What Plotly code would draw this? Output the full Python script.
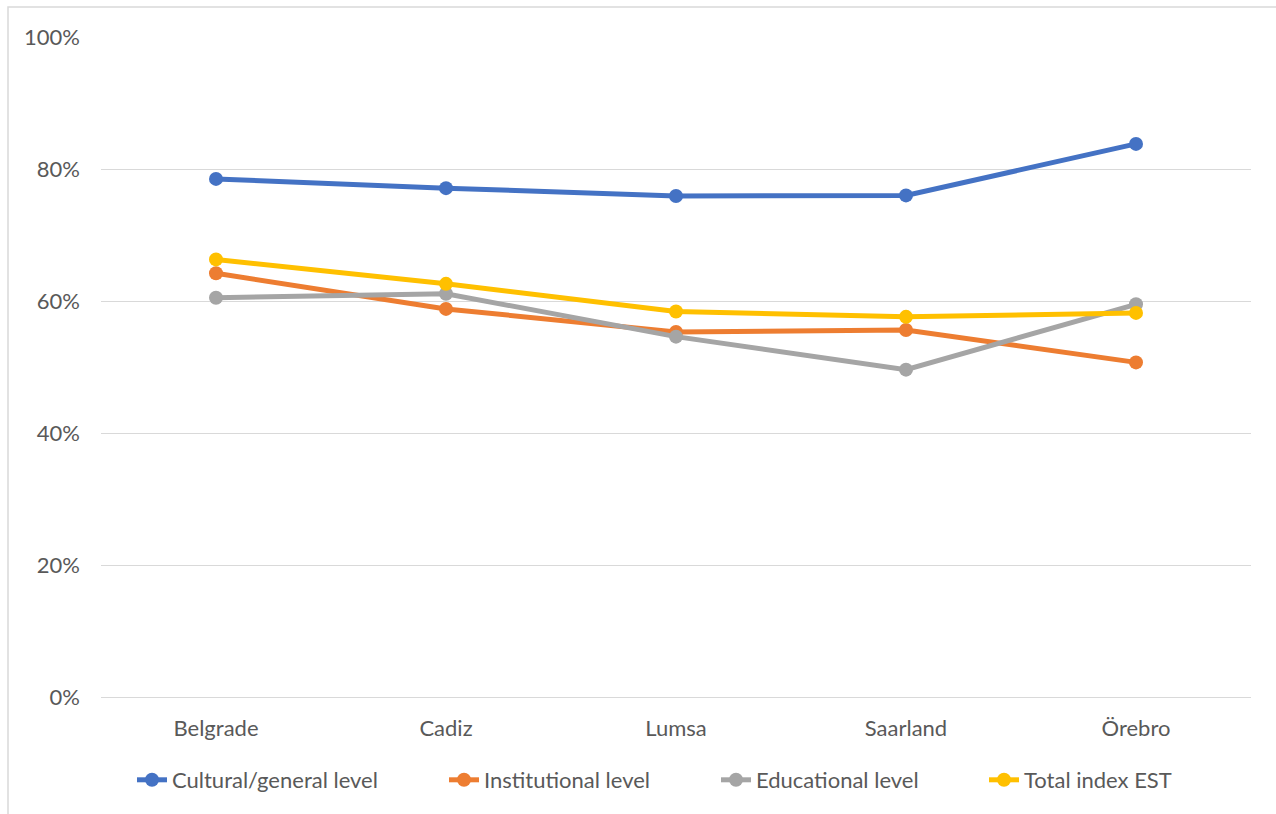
import plotly.graph_objects as go

categories = ["Belgrade", "Cadiz", "Lumsa", "Saarland", "Örebro"]
cultural = [0.785, 0.771, 0.759, 0.760, 0.838]
institutional = [0.642, 0.588, 0.553, 0.556, 0.507]
educational = [0.605, 0.611, 0.546, 0.496, 0.595]
total = [0.663, 0.626, 0.584, 0.576, 0.582]

series_names = ["Cultural/general level", "Institutional level", "Educational level", "Total index EST"]
series_values = [cultural, institutional, educational, total]
colors = ["#4472C4", "#ED7D31", "#A5A5A5", "#FFC000"]
legend_widths = [267, 227, 223, 150]

y_ticks = [0, 0.2, 0.4, 0.6, 0.8, 1.0]
y_tick_labels = ["0%", "20%", "40%", "60%", "80%", "100%"]

fig = go.Figure()
for name, vals, col, lw in zip(series_names, series_values, colors, legend_widths):
    fig.add_trace(go.Scatter(
        x=categories, y=vals, name=name, mode="lines+markers",
        line=dict(color=col, width=5),
        marker=dict(color=col, size=14),
        legendwidth=lw,
    ))

L, R, T, B = 101, 25, 37, 117
W, H = 1276, 814
pw, ph = W - L - R, H - T - B

fig.update_layout(
    width=W, height=H,
    margin=dict(l=L, r=R, t=T, b=B),
    paper_bgcolor="white", plot_bgcolor="white",
    font=dict(family="Lato, Carlito, Calibri, sans-serif", size=22, color="#595959"),
    showlegend=True,
    legend=dict(orientation="h", x=(132 - L) / pw, xanchor="left",
                y=(697 - 780) / ph, yanchor="middle",
                font=dict(size=22, color="#595959"), bgcolor="rgba(0,0,0,0)"),
    xaxis=dict(type="category", range=[-0.5, 4.5], showgrid=False, showline=False,
               zeroline=False, ticks="", ticklabelstandoff=16),
    yaxis=dict(range=[0, 1.0], tickvals=y_ticks, ticktext=y_tick_labels,
               showgrid=True, gridcolor="#D9D9D9", gridwidth=1,
               zeroline=True, zerolinecolor="#D9D9D9", zerolinewidth=1,
               showline=False, ticks="", ticklabelstandoff=20),
    shapes=[dict(type="rect", xref="paper", yref="paper",
                 x0=(8 - L) / pw, x1=(1290 - L) / pw,
                 y0=(697 - 830) / ph, y1=1 + (T - 7) / ph,
                 line=dict(color="#D9D9D9", width=1.5), fillcolor="rgba(0,0,0,0)",
                 layer="below")],
)

fig.write_html("out.html")
